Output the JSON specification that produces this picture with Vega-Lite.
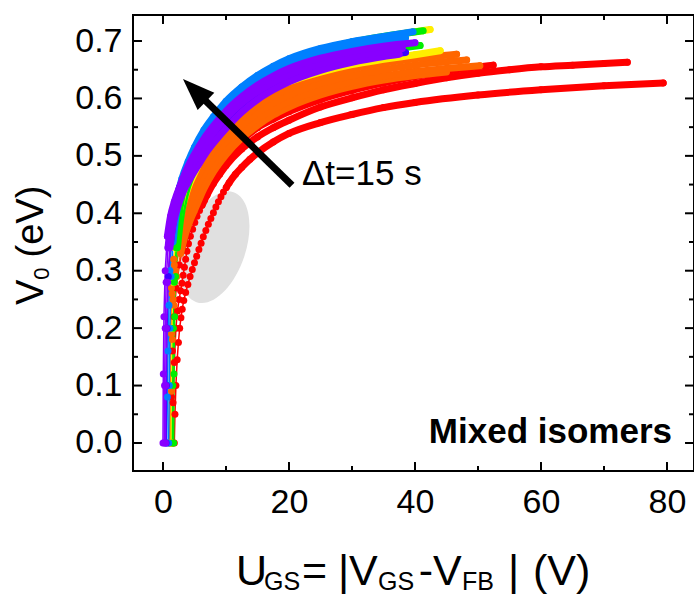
{
"$schema": "https://vega.github.io/schema/vega-lite/v6.json",
"width": 561, "height": 456,
"autosize": {"type": "none"},
"padding": {"left": 133, "top": 15, "right": 0, "bottom": 124},
"background": "white",
"config": {"view": {"stroke": "black", "strokeWidth": 2}, "font": "Liberation Sans",
"axis": {"title": null, "domain": false, "ticks": false, "tickSize": 0, "grid": false, "labelFont": "Liberation Sans", "labelColor": "black", "labelFontSize": 34, "labelFlush": false, "labelOverlap": false}},
"datasets": {
"xticks": [{"p":0,"k":"major"},{"p":10,"k":"minor"},{"p":20,"k":"major"},{"p":30,"k":"minor"},{"p":40,"k":"major"},{"p":50,"k":"minor"},{"p":60,"k":"major"},{"p":70,"k":"minor"},{"p":80,"k":"major"}],
"yticks": [{"p":0,"k":"major"},{"p":0.05,"k":"minor"},{"p":0.1,"k":"major"},{"p":0.15,"k":"minor"},{"p":0.2,"k":"major"},{"p":0.25,"k":"minor"},{"p":0.3,"k":"major"},{"p":0.35,"k":"minor"},{"p":0.4,"k":"major"},{"p":0.45,"k":"minor"},{"p":0.5,"k":"major"},{"p":0.55,"k":"minor"},{"p":0.6,"k":"major"},{"p":0.65,"k":"minor"},{"p":0.7,"k":"major"}],
"curves": [
{"s":"c01","x":1.8,"v":0},{"s":"c01","x":1.9,"v":0.05},{"s":"c01","x":2.05,"v":0.1},{"s":"c01","x":2.25,"v":0.145},{"s":"c01","x":2.45,"v":0.175},{"s":"c01","x":2.65,"v":0.2},{"s":"c01","x":2.85,"v":0.218},{"s":"c01","x":3.05,"v":0.233},{"s":"c01","x":3.3,"v":0.248},{"s":"c01","x":3.6,"v":0.262},{"s":"c01","x":3.95,"v":0.276},{"s":"c01","x":4.3,"v":0.29},{"s":"c01","x":4.65,"v":0.302},{"s":"c01","x":5.0,"v":0.314},{"s":"c01","x":5.35,"v":0.325},{"s":"c01","x":5.7,"v":0.337},{"s":"c01","x":6.05,"v":0.348},{"s":"c01","x":6.4,"v":0.359},{"s":"c01","x":6.8,"v":0.37},{"s":"c01","x":7.2,"v":0.381},{"s":"c01","x":7.6,"v":0.391},{"s":"c01","x":8.0,"v":0.401},{"s":"c01","x":8.4,"v":0.411},{"s":"c01","x":8.8,"v":0.42},{"s":"c01","x":9.2,"v":0.429},{"s":"c01","x":9.6,"v":0.437},{"s":"c01","x":10.05,"v":0.445},{"s":"c01","x":10.5,"v":0.453},{"s":"c01","x":11.5,"v":0.468},{"s":"c01","x":12.5,"v":0.48},{"s":"c01","x":13.8,"v":0.494},{"s":"c01","x":15,"v":0.505},{"s":"c01","x":17.5,"v":0.524},{"s":"c01","x":20,"v":0.539},{"s":"c01","x":25,"v":0.558},{"s":"c01","x":30,"v":0.572},{"s":"c01","x":35,"v":0.584},{"s":"c01","x":40,"v":0.593},{"s":"c01","x":50,"v":0.606},{"s":"c01","x":60,"v":0.615},{"s":"c01","x":70,"v":0.622},{"s":"c01","x":79.4,"v":0.627},
{"s":"c02","x":1.5,"v":0},{"s":"c02","x":1.6,"v":0.07},{"s":"c02","x":1.8,"v":0.14},{"s":"c02","x":2.05,"v":0.2},{"s":"c02","x":2.3,"v":0.23},{"s":"c02","x":2.55,"v":0.25},{"s":"c02","x":2.8,"v":0.265},{"s":"c02","x":3.0,"v":0.278},{"s":"c02","x":3.2,"v":0.292},{"s":"c02","x":3.4,"v":0.306},{"s":"c02","x":3.6,"v":0.32},{"s":"c02","x":3.8,"v":0.334},{"s":"c02","x":4.05,"v":0.347},{"s":"c02","x":4.35,"v":0.36},{"s":"c02","x":4.7,"v":0.372},{"s":"c02","x":5.05,"v":0.384},{"s":"c02","x":5.4,"v":0.395},{"s":"c02","x":5.8,"v":0.405},{"s":"c02","x":6.2,"v":0.414},{"s":"c02","x":6.6,"v":0.423},{"s":"c02","x":7.0,"v":0.432},{"s":"c02","x":8,"v":0.452},{"s":"c02","x":9,"v":0.468},{"s":"c02","x":10,"v":0.483},{"s":"c02","x":12.5,"v":0.512},{"s":"c02","x":15,"v":0.533},{"s":"c02","x":17.5,"v":0.549},{"s":"c02","x":20,"v":0.562},{"s":"c02","x":25,"v":0.585},{"s":"c02","x":30,"v":0.601},{"s":"c02","x":35,"v":0.615},{"s":"c02","x":40,"v":0.626},{"s":"c02","x":45,"v":0.636},{"s":"c02","x":50,"v":0.644},{"s":"c02","x":55,"v":0.65},{"s":"c02","x":60,"v":0.655},{"s":"c02","x":65,"v":0.658},{"s":"c02","x":70,"v":0.661},{"s":"c02","x":73.7,"v":0.663},
{"s":"c03","x":1.3,"v":0},{"s":"c03","x":1.35,"v":0.08},{"s":"c03","x":1.5,"v":0.16},{"s":"c03","x":1.75,"v":0.22},{"s":"c03","x":2.1,"v":0.27},{"s":"c03","x":2.6,"v":0.31},{"s":"c03","x":3.2,"v":0.345},{"s":"c03","x":4,"v":0.375},{"s":"c03","x":5,"v":0.405},{"s":"c03","x":6.5,"v":0.44},{"s":"c03","x":8,"v":0.468},{"s":"c03","x":10,"v":0.498},{"s":"c03","x":12.5,"v":0.527},{"s":"c03","x":15,"v":0.549},{"s":"c03","x":17.5,"v":0.564},{"s":"c03","x":20,"v":0.577},{"s":"c03","x":25,"v":0.598},{"s":"c03","x":30,"v":0.614},{"s":"c03","x":35,"v":0.627},{"s":"c03","x":40,"v":0.638},{"s":"c03","x":45,"v":0.647},{"s":"c03","x":50,"v":0.655},{"s":"c03","x":52.4,"v":0.658},
{"s":"c04","x":1.3,"v":0},{"s":"c04","x":1.35,"v":0.09},{"s":"c04","x":1.5,"v":0.18},{"s":"c04","x":1.75,"v":0.24},{"s":"c04","x":2.2,"v":0.29},{"s":"c04","x":2.8,"v":0.33},{"s":"c04","x":3.6,"v":0.365},{"s":"c04","x":4.4,"v":0.39},{"s":"c04","x":5,"v":0.405},{"s":"c04","x":6.5,"v":0.443},{"s":"c04","x":8,"v":0.472},{"s":"c04","x":10,"v":0.502},{"s":"c04","x":12.5,"v":0.531},{"s":"c04","x":15,"v":0.553},{"s":"c04","x":17.5,"v":0.571},{"s":"c04","x":20,"v":0.585},{"s":"c04","x":25,"v":0.606},{"s":"c04","x":30,"v":0.621},{"s":"c04","x":35,"v":0.632},{"s":"c04","x":40,"v":0.64},{"s":"c04","x":45,"v":0.646},
{"s":"c05","x":1.2,"v":0},{"s":"c05","x":1.25,"v":0.1},{"s":"c05","x":1.35,"v":0.19},{"s":"c05","x":1.6,"v":0.25},{"s":"c05","x":2,"v":0.3},{"s":"c05","x":2.6,"v":0.34},{"s":"c05","x":3.4,"v":0.375},{"s":"c05","x":4.2,"v":0.4},{"s":"c05","x":5,"v":0.422},{"s":"c05","x":6.5,"v":0.457},{"s":"c05","x":8,"v":0.485},{"s":"c05","x":10,"v":0.513},{"s":"c05","x":12.5,"v":0.542},{"s":"c05","x":15,"v":0.564},{"s":"c05","x":17.5,"v":0.581},{"s":"c05","x":20,"v":0.595},{"s":"c05","x":25,"v":0.615},{"s":"c05","x":30,"v":0.629},{"s":"c05","x":35,"v":0.639},{"s":"c05","x":40,"v":0.647},{"s":"c05","x":45,"v":0.652},{"s":"c05","x":50.3,"v":0.657},
{"s":"c06","x":1.1,"v":0},{"s":"c06","x":1.15,"v":0.1},{"s":"c06","x":1.25,"v":0.2},{"s":"c06","x":1.45,"v":0.26},{"s":"c06","x":1.8,"v":0.31},{"s":"c06","x":2.4,"v":0.35},{"s":"c06","x":3.2,"v":0.385},{"s":"c06","x":4,"v":0.41},{"s":"c06","x":5,"v":0.437},{"s":"c06","x":6.5,"v":0.47},{"s":"c06","x":8,"v":0.497},{"s":"c06","x":10,"v":0.525},{"s":"c06","x":12.5,"v":0.553},{"s":"c06","x":15,"v":0.575},{"s":"c06","x":17.5,"v":0.592},{"s":"c06","x":20,"v":0.606},{"s":"c06","x":25,"v":0.626},{"s":"c06","x":30,"v":0.64},{"s":"c06","x":35,"v":0.65},{"s":"c06","x":40,"v":0.658},{"s":"c06","x":44,"v":0.663},{"s":"c06","x":48.2,"v":0.667},
{"s":"c07","x":1.0,"v":0},{"s":"c07","x":1.05,"v":0.1},{"s":"c07","x":1.15,"v":0.2},{"s":"c07","x":1.35,"v":0.27},{"s":"c07","x":1.7,"v":0.32},{"s":"c07","x":2.2,"v":0.36},{"s":"c07","x":3,"v":0.4},{"s":"c07","x":4,"v":0.43},{"s":"c07","x":5,"v":0.452},{"s":"c07","x":6.5,"v":0.484},{"s":"c07","x":8,"v":0.51},{"s":"c07","x":10,"v":0.537},{"s":"c07","x":12.5,"v":0.565},{"s":"c07","x":15,"v":0.587},{"s":"c07","x":17.5,"v":0.604},{"s":"c07","x":20,"v":0.617},{"s":"c07","x":25,"v":0.637},{"s":"c07","x":30,"v":0.651},{"s":"c07","x":35,"v":0.661},{"s":"c07","x":40,"v":0.669},{"s":"c07","x":43,"v":0.673},{"s":"c07","x":46.6,"v":0.677},
{"s":"c08","x":1.4,"v":0},{"s":"c08","x":1.45,"v":0.1},{"s":"c08","x":1.55,"v":0.2},{"s":"c08","x":1.75,"v":0.28},{"s":"c08","x":2.1,"v":0.34},{"s":"c08","x":2.6,"v":0.385},{"s":"c08","x":3.3,"v":0.42},{"s":"c08","x":4,"v":0.445},{"s":"c08","x":5,"v":0.47},{"s":"c08","x":6.5,"v":0.505},{"s":"c08","x":8,"v":0.532},{"s":"c08","x":10,"v":0.558},{"s":"c08","x":12.5,"v":0.585},{"s":"c08","x":15,"v":0.605},{"s":"c08","x":17.5,"v":0.618},{"s":"c08","x":20,"v":0.629},{"s":"c08","x":25,"v":0.646},{"s":"c08","x":30,"v":0.659},{"s":"c08","x":35,"v":0.668},{"s":"c08","x":40,"v":0.676},{"s":"c08","x":44,"v":0.683},
{"s":"c09","x":1.7,"v":0},{"s":"c09","x":1.75,"v":0.12},{"s":"c09","x":1.85,"v":0.22},{"s":"c09","x":2.0,"v":0.29},{"s":"c09","x":2.3,"v":0.34},{"s":"c09","x":2.8,"v":0.39},{"s":"c09","x":3.5,"v":0.43},{"s":"c09","x":4.5,"v":0.465},{"s":"c09","x":5.5,"v":0.49},{"s":"c09","x":7,"v":0.52},{"s":"c09","x":8.5,"v":0.543},{"s":"c09","x":10,"v":0.562},{"s":"c09","x":12.5,"v":0.59},{"s":"c09","x":15,"v":0.61},{"s":"c09","x":17.5,"v":0.626},{"s":"c09","x":20,"v":0.639},{"s":"c09","x":25,"v":0.658},{"s":"c09","x":30,"v":0.672},{"s":"c09","x":35,"v":0.683},{"s":"c09","x":40.8,"v":0.692},
{"s":"c10","x":1.3,"v":0},{"s":"c10","x":1.35,"v":0.1},{"s":"c10","x":1.45,"v":0.2},{"s":"c10","x":1.6,"v":0.28},{"s":"c10","x":1.9,"v":0.34},{"s":"c10","x":2.4,"v":0.39},{"s":"c10","x":3,"v":0.425},{"s":"c10","x":4,"v":0.465},{"s":"c10","x":5,"v":0.495},{"s":"c10","x":6.5,"v":0.53},{"s":"c10","x":8,"v":0.556},{"s":"c10","x":10,"v":0.585},{"s":"c10","x":12.5,"v":0.612},{"s":"c10","x":15,"v":0.633},{"s":"c10","x":17.5,"v":0.65},{"s":"c10","x":20,"v":0.664},{"s":"c10","x":25,"v":0.683},{"s":"c10","x":30,"v":0.697},{"s":"c10","x":35,"v":0.707},{"s":"c10","x":40,"v":0.716},{"s":"c10","x":42.4,"v":0.72},
{"s":"c11","x":1.5,"v":0},{"s":"c11","x":1.55,"v":0.1},{"s":"c11","x":1.65,"v":0.2},{"s":"c11","x":1.8,"v":0.28},{"s":"c11","x":2.1,"v":0.34},{"s":"c11","x":2.5,"v":0.39},{"s":"c11","x":3,"v":0.43},{"s":"c11","x":4,"v":0.47},{"s":"c11","x":5,"v":0.5},{"s":"c11","x":6.5,"v":0.535},{"s":"c11","x":8,"v":0.56},{"s":"c11","x":10,"v":0.59},{"s":"c11","x":12.5,"v":0.616},{"s":"c11","x":15,"v":0.636},{"s":"c11","x":17.5,"v":0.653},{"s":"c11","x":20,"v":0.666},{"s":"c11","x":25,"v":0.685},{"s":"c11","x":30,"v":0.698},{"s":"c11","x":35,"v":0.708},{"s":"c11","x":41.3,"v":0.718},
{"s":"c12","x":0.9,"v":0},{"s":"c12","x":1.0,"v":0.1},{"s":"c12","x":1.1,"v":0.2},{"s":"c12","x":1.3,"v":0.29},{"s":"c12","x":1.6,"v":0.35},{"s":"c12","x":2,"v":0.39},{"s":"c12","x":2.6,"v":0.425},{"s":"c12","x":3.2,"v":0.45},{"s":"c12","x":4,"v":0.475},{"s":"c12","x":5,"v":0.5},{"s":"c12","x":6.5,"v":0.53},{"s":"c12","x":8,"v":0.555},{"s":"c12","x":10,"v":0.582},{"s":"c12","x":12.5,"v":0.608},{"s":"c12","x":15,"v":0.628},{"s":"c12","x":17.5,"v":0.645},{"s":"c12","x":20,"v":0.658},{"s":"c12","x":25,"v":0.677},{"s":"c12","x":30,"v":0.69},{"s":"c12","x":35,"v":0.7},{"s":"c12","x":38.5,"v":0.706},
{"s":"c13","x":0.6,"v":0},{"s":"c13","x":0.7,"v":0.08},{"s":"c13","x":0.8,"v":0.16},{"s":"c13","x":0.95,"v":0.24},{"s":"c13","x":1.1,"v":0.3},{"s":"c13","x":1.4,"v":0.36},{"s":"c13","x":1.8,"v":0.4},{"s":"c13","x":2.4,"v":0.435},{"s":"c13","x":3,"v":0.46},{"s":"c13","x":4,"v":0.49},{"s":"c13","x":5,"v":0.515},{"s":"c13","x":6.5,"v":0.545},{"s":"c13","x":8,"v":0.568},{"s":"c13","x":10,"v":0.595},{"s":"c13","x":12.5,"v":0.62},{"s":"c13","x":15,"v":0.64},{"s":"c13","x":17.5,"v":0.656},{"s":"c13","x":20,"v":0.669},{"s":"c13","x":25,"v":0.687},{"s":"c13","x":30,"v":0.699},{"s":"c13","x":35,"v":0.708},{"s":"c13","x":39.7,"v":0.716},
{"s":"c14","x":0.5,"v":0},{"s":"c14","x":0.55,"v":0.1},{"s":"c14","x":0.65,"v":0.2},{"s":"c14","x":0.85,"v":0.29},{"s":"c14","x":1.2,"v":0.35},{"s":"c14","x":1.7,"v":0.39},{"s":"c14","x":2.4,"v":0.42},{"s":"c14","x":3.3,"v":0.45},{"s":"c14","x":4.5,"v":0.475},{"s":"c14","x":5.5,"v":0.493},{"s":"c14","x":7,"v":0.518},{"s":"c14","x":8.5,"v":0.538},{"s":"c14","x":10,"v":0.556},{"s":"c14","x":12.5,"v":0.583},{"s":"c14","x":15,"v":0.603},{"s":"c14","x":17.5,"v":0.62},{"s":"c14","x":20,"v":0.633},{"s":"c14","x":25,"v":0.652},{"s":"c14","x":30,"v":0.666},{"s":"c14","x":35,"v":0.675},{"s":"c14","x":38.5,"v":0.68},
{"s":"c15","x":0.4,"v":0},{"s":"c15","x":0.45,"v":0.1},{"s":"c15","x":0.55,"v":0.2},{"s":"c15","x":0.75,"v":0.28},{"s":"c15","x":1.1,"v":0.34},{"s":"c15","x":1.6,"v":0.38},{"s":"c15","x":2.3,"v":0.41},{"s":"c15","x":3.2,"v":0.437},{"s":"c15","x":4.3,"v":0.46},{"s":"c15","x":5.5,"v":0.482},{"s":"c15","x":7,"v":0.508},{"s":"c15","x":8.5,"v":0.529},{"s":"c15","x":10,"v":0.548},{"s":"c15","x":12.5,"v":0.576},{"s":"c15","x":15,"v":0.598},{"s":"c15","x":17.5,"v":0.615},{"s":"c15","x":20,"v":0.629},{"s":"c15","x":25,"v":0.649},{"s":"c15","x":30,"v":0.663},{"s":"c15","x":35,"v":0.673},{"s":"c15","x":37.5,"v":0.677},
{"s":"c16","x":0.0,"v":0},{"s":"c16","x":0.05,"v":0.12},{"s":"c16","x":0.15,"v":0.22},{"s":"c16","x":0.35,"v":0.3},{"s":"c16","x":0.7,"v":0.36},{"s":"c16","x":1.2,"v":0.395},{"s":"c16","x":1.8,"v":0.42},{"s":"c16","x":2.6,"v":0.445},{"s":"c16","x":3.5,"v":0.465},{"s":"c16","x":5,"v":0.492},{"s":"c16","x":6.5,"v":0.518},{"s":"c16","x":8,"v":0.54},{"s":"c16","x":10,"v":0.566},{"s":"c16","x":12.5,"v":0.592},{"s":"c16","x":15,"v":0.612},{"s":"c16","x":17.5,"v":0.628},{"s":"c16","x":20,"v":0.641},{"s":"c16","x":25,"v":0.66},{"s":"c16","x":30,"v":0.673},{"s":"c16","x":35,"v":0.682},{"s":"c16","x":38,"v":0.687},
{"s":"c17","x":0.2,"v":0},{"s":"c17","x":0.25,"v":0.1},{"s":"c17","x":0.35,"v":0.2},{"s":"c17","x":0.5,"v":0.28},{"s":"c17","x":0.8,"v":0.34},{"s":"c17","x":1.2,"v":0.38},{"s":"c17","x":1.7,"v":0.41},{"s":"c17","x":2.5,"v":0.44},{"s":"c17","x":3.5,"v":0.47},{"s":"c17","x":5,"v":0.503},{"s":"c17","x":6.5,"v":0.53},{"s":"c17","x":8,"v":0.552},{"s":"c17","x":10,"v":0.578},{"s":"c17","x":12.5,"v":0.603},{"s":"c17","x":15,"v":0.623},{"s":"c17","x":17.5,"v":0.639},{"s":"c17","x":20,"v":0.652},{"s":"c17","x":25,"v":0.67},{"s":"c17","x":30,"v":0.682},{"s":"c17","x":35,"v":0.691},{"s":"c17","x":40,"v":0.697}
]
},
"layer": [
{
"data": {"values": [{"x": 8.25, "v": 0.341}]},
"mark": {"type": "point", "shape": "M0,-1A0.53,1,0,1,1,0,1A0.53,1,0,1,1,0,-1Z", "size": 13456, "angle": 18.6, "filled": true, "fill": "#e0e0e0", "strokeWidth": 0, "opacity": 1},
"encoding": {
"x": {"field": "x", "type": "quantitative", "scale": {"domain": [-4.76, 84.29], "nice": false, "zero": false},
"axis": {"orient": "bottom", "values": [0,20,40,60,80], "labelPadding": 14}},
"y": {"field": "v", "type": "quantitative", "scale": {"domain": [-0.0488, 0.7453], "nice": false, "zero": false},
"axis": {"orient": "left", "values": [0,0.1,0.2,0.3,0.4,0.5,0.6,0.7], "format": ".1f", "labelPadding": 11}}
}
},
{
"data": {"name": "curves"},
"mark": {"type": "line", "strokeWidth": 1.5},
"encoding": {
"x": {"field": "x", "type": "quantitative", "axis": null},
"y": {"field": "v", "type": "quantitative", "axis": null},
"color": {"field": "s", "type": "nominal", "legend": null, "scale": {"domain": ["c01","c02","c03","c04","c05","c06","c07","c08","c09","c10","c11","c12","c13","c14","c15","c16","c17"], "range": ["#ff0000","#ff0000","#ff0000","#ff6600","#ff6600","#ff6600","#ff6600","#ffee00","#00ee00","#ffee00","#00ee00","#0080ff","#0080ff","#3a00ff","#8800ff","#8800ff","#8800ff"]}},
"order": {"field": "x", "type": "quantitative"}
}
},
{
"data": {"name": "curves"},
"mark": {"type": "point", "shape": "circle", "filled": true, "size": 49, "opacity": 1, "strokeWidth": 0},
"encoding": {
"x": {"field": "x", "type": "quantitative", "axis": null},
"y": {"field": "v", "type": "quantitative", "axis": null},
"color": {"field": "s", "type": "nominal", "legend": null}
}
},
{
"data": {"name": "curves"},
"transform": [{"filter": "datum.v >= (datum.s == 'c01' ? 0.44 : datum.s == 'c02' ? 0.41 : 0.33)"}],
"mark": {"type": "line", "strokeWidth": 7, "strokeCap": "round", "strokeJoin": "round", "interpolate": "monotone"},
"encoding": {
"x": {"field": "x", "type": "quantitative", "axis": null},
"y": {"field": "v", "type": "quantitative", "axis": null},
"color": {"field": "s", "type": "nominal", "legend": null},
"order": {"field": "x", "type": "quantitative"}
}
},
{
"data": {"values": [{"x": 20.48, "v": 0.449, "x2": 6.67, "v2": 0.597}]},
"mark": {"type": "rule", "color": "black", "strokeWidth": 7},
"encoding": {
"x": {"field": "x", "type": "quantitative", "axis": null},
"y": {"field": "v", "type": "quantitative", "axis": null},
"x2": {"field": "x2"},
"y2": {"field": "v2"}
}
},
{
"data": {"values": [{"x": 5.0, "v": 0.6143}]},
"mark": {"type": "point", "shape": "M0,-1L0.75,1L-0.75,1Z", "size": 1024, "angle": 314, "filled": true, "fill": "black", "strokeWidth": 0, "opacity": 1},
"encoding": {
"x": {"field": "x", "type": "quantitative", "axis": null},
"y": {"field": "v", "type": "quantitative", "axis": null}
}
},
{
"data": {"name": "xticks"}, "transform": [{"filter": "datum.k == 'major'"}],
"mark": {"type": "tick", "orient": "vertical", "color": "black", "thickness": 2, "size": 9, "opacity": 1},
"encoding": {"x": {"field": "p", "type": "quantitative", "axis": null}, "y": {"datum": -0.041, "type": "quantitative", "axis": null}}
},
{
"data": {"name": "xticks"}, "transform": [{"filter": "datum.k == 'minor'"}],
"mark": {"type": "tick", "orient": "vertical", "color": "black", "thickness": 2, "size": 5, "opacity": 1},
"encoding": {"x": {"field": "p", "type": "quantitative", "axis": null}, "y": {"datum": -0.0444, "type": "quantitative", "axis": null}}
},
{
"data": {"name": "xticks"}, "transform": [{"filter": "datum.k == 'major'"}],
"mark": {"type": "tick", "orient": "vertical", "color": "black", "thickness": 2, "size": 9, "opacity": 1},
"encoding": {"x": {"field": "p", "type": "quantitative", "axis": null}, "y": {"datum": 0.7375, "type": "quantitative", "axis": null}}
},
{
"data": {"name": "xticks"}, "transform": [{"filter": "datum.k == 'minor'"}],
"mark": {"type": "tick", "orient": "vertical", "color": "black", "thickness": 2, "size": 5, "opacity": 1},
"encoding": {"x": {"field": "p", "type": "quantitative", "axis": null}, "y": {"datum": 0.7409, "type": "quantitative", "axis": null}}
},
{
"data": {"name": "yticks"}, "transform": [{"filter": "datum.k == 'major'"}],
"mark": {"type": "tick", "orient": "horizontal", "color": "black", "thickness": 2, "size": 9, "opacity": 1},
"encoding": {"y": {"field": "p", "type": "quantitative", "axis": null}, "x": {"datum": -4.05, "type": "quantitative", "axis": null}}
},
{
"data": {"name": "yticks"}, "transform": [{"filter": "datum.k == 'minor'"}],
"mark": {"type": "tick", "orient": "horizontal", "color": "black", "thickness": 2, "size": 5, "opacity": 1},
"encoding": {"y": {"field": "p", "type": "quantitative", "axis": null}, "x": {"datum": -4.36, "type": "quantitative", "axis": null}}
},
{
"data": {"name": "yticks"}, "transform": [{"filter": "datum.k == 'major'"}],
"mark": {"type": "tick", "orient": "horizontal", "color": "black", "thickness": 2, "size": 9, "opacity": 1},
"encoding": {"y": {"field": "p", "type": "quantitative", "axis": null}, "x": {"datum": 83.58, "type": "quantitative", "axis": null}}
},
{
"data": {"name": "yticks"}, "transform": [{"filter": "datum.k == 'minor'"}],
"mark": {"type": "tick", "orient": "horizontal", "color": "black", "thickness": 2, "size": 5, "opacity": 1},
"encoding": {"y": {"field": "p", "type": "quantitative", "axis": null}, "x": {"datum": 83.89, "type": "quantitative", "axis": null}}
},
{
"data": {"values": [{"t": "Δt=15 s", "x": 22.06, "v": 0.4492}]},
"mark": {"type": "text", "fontSize": 35, "font": "Liberation Sans", "align": "left", "baseline": "alphabetic", "color": "black"},
"encoding": {
"x": {"field": "x", "type": "quantitative", "axis": null},
"y": {"field": "v", "type": "quantitative", "axis": null},
"text": {"field": "t"}
}
},
{
"data": {"values": [{"t": "Mixed isomers", "x": 80.8, "v": 0.0}]},
"mark": {"type": "text", "fontSize": 35, "fontWeight": "bold", "font": "Liberation Sans", "align": "right", "baseline": "alphabetic", "color": "black"},
"encoding": {
"x": {"field": "x", "type": "quantitative", "axis": null},
"y": {"field": "v", "type": "quantitative", "axis": null},
"text": {"field": "t"}
}
},
{
"data": {"values": [
{"t": "U", "x": 11.59, "v": -0.2473},
{"t": "=", "x": 22.06, "v": -0.2473},
{"t": "|", "x": 27.78, "v": -0.2473},
{"t": "V", "x": 29.52, "v": -0.2473},
{"t": "-V", "x": 40.6, "v": -0.2473},
{"t": "|", "x": 54.76, "v": -0.2473},
{"t": "(V)", "x": 58.73, "v": -0.2473}
]},
"mark": {"type": "text", "fontSize": 43, "font": "Liberation Sans", "align": "left", "baseline": "alphabetic", "color": "black"},
"encoding": {
"x": {"field": "x", "type": "quantitative", "axis": null},
"y": {"field": "v", "type": "quantitative", "axis": null},
"text": {"field": "t"}
}
},
{
"data": {"values": [
{"t": "GS", "x": 16.03, "v": -0.256},
{"t": "GS", "x": 34.13, "v": -0.256},
{"t": "FB", "x": 47.46, "v": -0.256}
]},
"mark": {"type": "text", "fontSize": 25, "font": "Liberation Sans", "align": "left", "baseline": "alphabetic", "color": "black"},
"encoding": {
"x": {"field": "x", "type": "quantitative", "axis": null},
"y": {"field": "v", "type": "quantitative", "axis": null},
"text": {"field": "t"}
}
},
{
"data": {"values": [
{"t": "V", "x": -19.05, "v": 0.2403},
{"t": "(eV)", "x": -19.05, "v": 0.323}
]},
"mark": {"type": "text", "fontSize": 38, "font": "Liberation Sans", "align": "left", "baseline": "alphabetic", "angle": 270, "color": "black"},
"encoding": {
"x": {"field": "x", "type": "quantitative", "axis": null},
"y": {"field": "v", "type": "quantitative", "axis": null},
"text": {"field": "t"}
}
},
{
"data": {"values": [{"t": "0", "x": -18.1, "v": 0.2843}]},
"mark": {"type": "text", "fontSize": 22, "font": "Liberation Sans", "align": "left", "baseline": "alphabetic", "angle": 270, "color": "black"},
"encoding": {
"x": {"field": "x", "type": "quantitative", "axis": null},
"y": {"field": "v", "type": "quantitative", "axis": null},
"text": {"field": "t"}
}
}
],
"resolve": {"axis": {"x": "independent", "y": "independent"}}
}
